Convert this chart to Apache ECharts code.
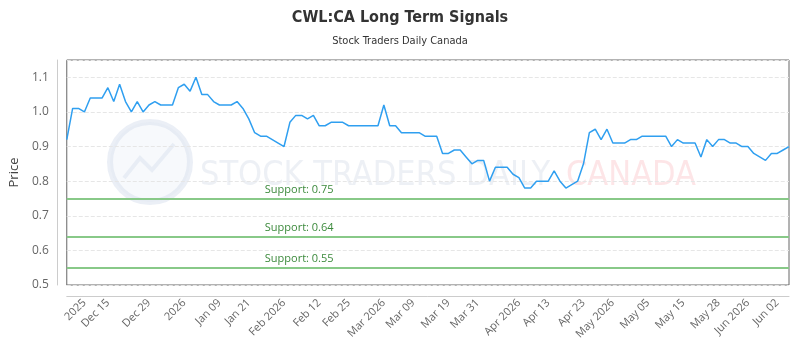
<!DOCTYPE html>
<html>
<head>
    <meta charset="utf-8">
    <title>CWL:CA Long Term Signals</title>
    <script src="https://cdn.jsdelivr.net/npm/echarts@6/dist/echarts.min.js"></script>
</head>
<body style="margin:0">
    <div id="main" style="width: 800px;height:350px;"></div>
    <script>
        // closing prices, one per point on the ordinal axis
        var prices = [
            0.92, 1.01, 1.01, 1.00, 1.04, 1.04, 1.04, 1.07, 1.03, 1.08,
            1.03, 1.00, 1.03, 1.00, 1.02, 1.03, 1.02, 1.02, 1.02, 1.07,
            1.08, 1.06, 1.10, 1.05, 1.05, 1.03, 1.02, 1.02, 1.02, 1.03,
            1.01, 0.98, 0.94, 0.93, 0.93, 0.92, 0.91, 0.90, 0.97, 0.99,
            0.99, 0.98, 0.99, 0.96, 0.96, 0.97, 0.97, 0.97, 0.96, 0.96,
            0.96, 0.96, 0.96, 0.96, 1.02, 0.96, 0.96, 0.94, 0.94, 0.94,
            0.94, 0.93, 0.93, 0.93, 0.88, 0.88, 0.89, 0.89, 0.87, 0.85,
            0.86, 0.86, 0.80, 0.84, 0.84, 0.84, 0.82, 0.81, 0.78, 0.78,
            0.80, 0.80, 0.80, 0.83, 0.80, 0.78, 0.79, 0.80, 0.85, 0.94,
            0.95, 0.92, 0.95, 0.91, 0.91, 0.91, 0.92, 0.92, 0.93, 0.93,
            0.93, 0.93, 0.93, 0.90, 0.92, 0.91, 0.91, 0.91, 0.87, 0.92,
            0.90, 0.92, 0.92, 0.91, 0.91, 0.90, 0.90, 0.88, 0.87, 0.86,
            0.88, 0.88, 0.89, 0.90
        ];

        // x tick labels and the point they sit on
        var tickIndex = [3, 7, 14, 20, 26, 31, 37, 43, 48, 54, 59, 65, 70, 77, 82, 88, 93, 99, 105, 111, 116, 121];
        var tickText = ['2025', 'Dec 15', 'Dec 29', '2026', 'Jan 09', 'Jan 21', 'Feb 2026', 'Feb 12', 'Feb 25',
            'Mar 2026', 'Mar 09', 'Mar 19', 'Mar 31', 'Apr 2026', 'Apr 13', 'Apr 23', 'May 2026', 'May 05',
            'May 15', 'May 28', 'Jun 2026', 'Jun 02'];

        var supports = [0.75, 0.64, 0.55];

        var categories = prices.map(function (p, i) {
            var k = tickIndex.indexOf(i);
            return k >= 0 ? tickText[k] : '';
        });

        var myChart = echarts.init(document.getElementById('main'));
        var uiFont = "'Open Sans', sans-serif";
        var headFont = "'DejaVu Sans Condensed', sans-serif";

        var option = {
            animation: false,
            title: {
                text: 'CWL:CA Long Term Signals',
                subtext: 'Stock Traders Daily Canada',
                left: 'center',
                top: 5,
                itemGap: 10,
                textStyle: { fontFamily: headFont, fontSize: 16, fontWeight: 'bold', color: '#333' },
                subtextStyle: { fontFamily: headFont, fontSize: 11, color: '#333' }
            },
            graphic: [
                {
                    type: 'circle', z: 0, silent: true,
                    shape: { cx: 150, cy: 162, r: 40 },
                    style: { fill: 'rgba(228,234,244,0.3)', stroke: 'rgba(210,220,235,0.45)', lineWidth: 6 }
                },
                {
                    type: 'polyline', z: 0, silent: true,
                    shape: { points: [[124, 178], [140, 158], [152, 170], [174, 144]] },
                    style: { stroke: 'rgba(210,220,235,0.4)', lineWidth: 4, fill: null }
                },
                {
                    type: 'text', z: 0, silent: true,
                    left: 200, top: 159,
                    style: {
                        text: 'STOCK TRADERS DAILY',
                        font: "34px 'DejaVu Sans Condensed', sans-serif",
                        fill: 'rgba(215,222,232,0.45)'
                    }
                },
                {
                    type: 'text', z: 0, silent: true,
                    left: 566, top: 159,
                    style: {
                        text: 'CANADA',
                        font: "34px 'DejaVu Sans Condensed', sans-serif",
                        fill: 'rgba(250,190,195,0.4)'
                    }
                }
            ],
            grid: {
                left: 64,
                right: 11,
                top: 60,
                bottom: 65,
                show: true,
                borderColor: '#666',
                borderWidth: 1
            },
            xAxis: {
                type: 'category',
                data: categories,
                boundaryGap: false,
                offset: 11,
                axisLine: { show: true, lineStyle: { color: '#ccc' } },
                axisTick: { show: false },
                axisLabel: {
                    interval: function (index, value) { return value !== ''; },
                    rotate: 45,
                    margin: 5,
                    fontFamily: uiFont,
                    fontSize: 11,
                    color: '#666'
                },
                splitLine: { show: false }
            },
            yAxis: {
                type: 'value',
                min: 0.5,
                max: 1.15,
                interval: 0.1,
                offset: 10,
                name: 'Price',
                nameLocation: 'middle',
                nameGap: 30,
                nameTextStyle: { fontFamily: uiFont, fontSize: 13, color: '#444' },
                axisLine: { show: true, lineStyle: { color: '#ccc' } },
                axisTick: { show: false },
                axisLabel: {
                    showMaxLabel: false,
                    margin: 8,
                    fontFamily: uiFont,
                    fontSize: 12,
                    color: '#666',
                    formatter: function (v) { return v.toFixed(1); }
                },
                splitLine: { show: true, lineStyle: { color: '#e6e6e6', type: 'dashed' } }
            },
            series: [
                {
                    type: 'line',
                    data: prices,
                    showSymbol: false,
                    z: 3,
                    lineStyle: { color: '#2f9ff0', width: 1.5 },
                    itemStyle: { color: '#2f9ff0' },
                    markLine: {
                        silent: true,
                        symbol: 'none',
                        lineStyle: { color: '#88c988', width: 2, type: 'solid' },
                        label: {
                            position: 'insideStartTop',
                            distance: [198, 3],
                            fontFamily: uiFont,
                            fontSize: 11,
                            color: '#3c8a3c',
                            formatter: function (p) { return 'Support: ' + p.value; }
                        },
                        data: supports.map(function (s) { return { yAxis: s }; })
                    }
                }
            ]
        };

        myChart.setOption(option);
    </script>
</body>
</html>
